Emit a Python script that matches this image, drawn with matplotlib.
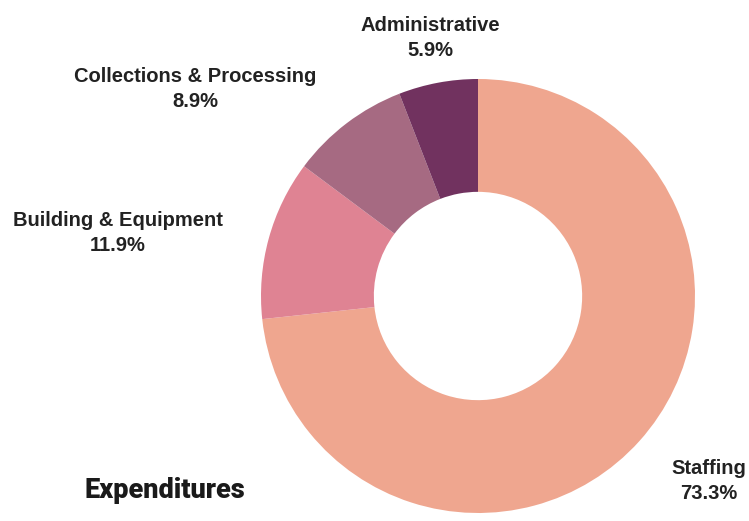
import numpy as np
import matplotlib
matplotlib.use("Agg")
import matplotlib.pyplot as plt

# Data
categories = ["Staffing", "Building & Equipment", "Collections & Processing", "Administrative"]
shares = [73.3, 11.9, 8.9, 5.9]
colors = ["#EFA68F", "#DF8393", "#A66A82", "#71325F"]

W, H = 749, 521
fig = plt.figure(figsize=(W / 100, H / 100), dpi=100)

# donut axes, placed in pixel terms
cx, cy, r = 478, 296, 217
ax = fig.add_axes([(cx - r) / W, 1 - (cy + r) / H, 2 * r / W, 2 * r / H])
ax.pie(shares, colors=colors, startangle=90, counterclock=False,
       radius=1.0, wedgeprops=dict(width=0.52, linewidth=0))
ax.set_xlim(-1, 1)
ax.set_ylim(-1, 1)
ax.set_aspect("equal")
ax.axis("off")

# labels (pixel positions of each label block centre)
label_pos = {
    "Staffing": (709, 481),
    "Building & Equipment": (118, 233),
    "Collections & Processing": (195, 89),
    "Administrative": (430, 38),
}
for cat, val in zip(categories, shares):
    x, y = label_pos[cat]
    fig.text(x / W, 1 - y / H, f"{cat}\n{val:.1f}%", ha="center", va="center",
             fontsize=14.5, fontweight="bold", family="Liberation Sans",
             color="#222222", linespacing=1.4)

fig.text(165 / W, 1 - 491 / H, "Expenditures", ha="center", va="center",
         fontsize=19.5, fontweight="heavy", family="Roboto", color="#1a1a1a")

fig.savefig("out.png", dpi=100)
